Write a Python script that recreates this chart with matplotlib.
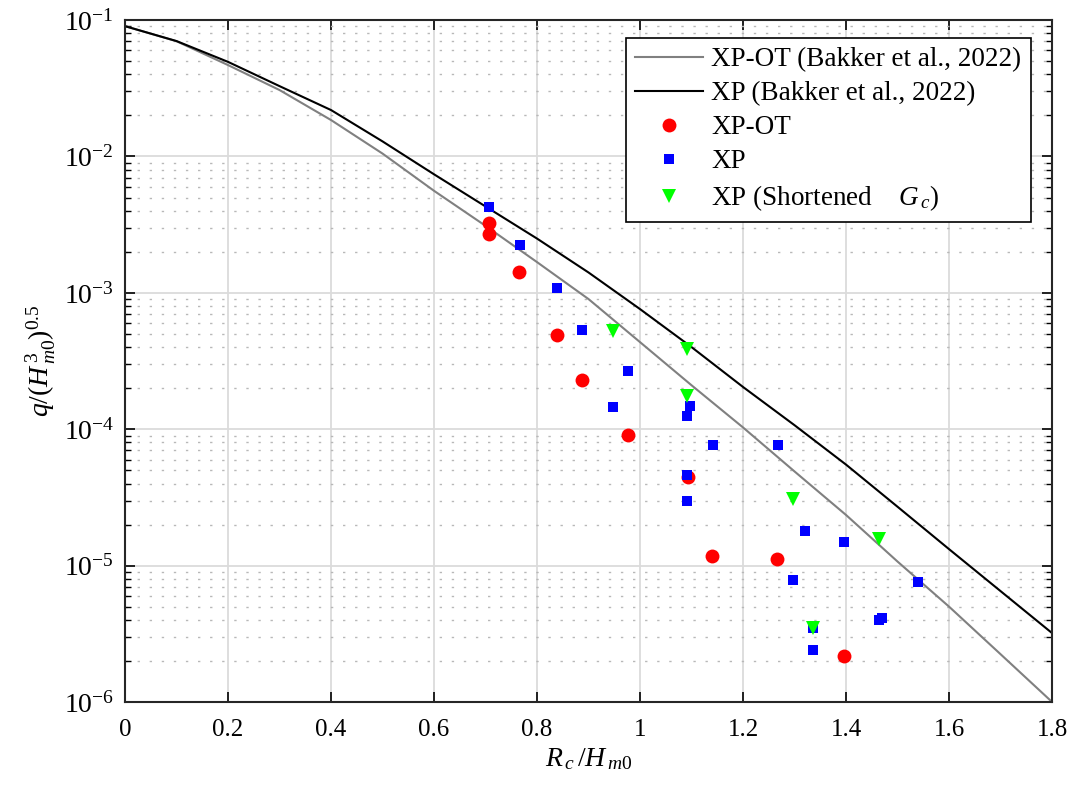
import numpy as np
import matplotlib
matplotlib.use('Agg')
import matplotlib.pyplot as plt
from matplotlib.ticker import LogLocator, NullFormatter, LogFormatterMathtext

# Bakker et al. (2022) Kurven, Stuetzstellen bei 0.1
x_line = [0.0, 0.1, 0.2, 0.3, 0.4, 0.5, 0.6, 0.7, 0.8, 0.9,
          1.0, 1.1, 1.2, 1.3, 1.4, 1.5, 1.6, 1.7, 1.8]
q_xpot_line = [0.0903, 0.070, 0.0468, 0.0307, 0.0185, 0.0105, 5.6e-3, 3.1e-3, 1.68e-3, 9.0e-4,
               4.35e-4, 2.1e-4, 1.03e-4, 4.9e-5, 2.35e-5, 1.07e-5, 5.0e-6, 2.24e-6, 1.0e-6]
q_xp_line = [0.0903, 0.0702, 0.0494, 0.0328, 0.0219, 0.0129, 7.4e-3, 4.3e-3, 2.5e-3, 1.41e-3,
             7.6e-4, 4.0e-4, 2.04e-4, 1.07e-4, 5.5e-5, 2.7e-5, 1.32e-5, 6.5e-6, 3.2e-6]

# Messpunkte XP-OT
x_xpot = [0.707, 0.707, 0.765, 0.839, 0.887, 0.977, 1.093, 1.140, 1.266, 1.396]
q_xpot = [3.25e-3, 2.70e-3, 1.43e-3, 4.94e-4, 2.29e-4, 9.1e-5, 4.5e-5, 1.17e-5, 1.11e-5, 2.16e-6]

# Messpunkte XP
x_xp = [0.707, 0.766, 0.839, 0.888, 0.977, 0.948, 1.097, 1.092, 1.092, 1.092,
        1.141, 1.267, 1.321, 1.395, 1.296, 1.540, 1.463, 1.469, 1.335, 1.335]
q_xp = [4.25e-3, 2.24e-3, 1.09e-3, 5.35e-4, 2.68e-4, 1.46e-4, 1.48e-4, 1.25e-4, 4.6e-5, 3.0e-5,
        7.7e-5, 7.7e-5, 1.81e-5, 1.5e-5, 7.8e-6, 7.65e-6, 4.0e-6, 4.1e-6, 3.5e-6, 2.4e-6]

# Messpunkte XP mit verkuerztem Gc
x_short = [0.947, 1.092, 1.092, 1.296, 1.463, 1.335]
q_short = [5.23e-4, 3.88e-4, 1.75e-4, 3.06e-5, 1.56e-5, 3.5e-6]

x_ticks = [0, 0.2, 0.4, 0.6, 0.8, 1.0, 1.2, 1.4, 1.6, 1.8]
x_ticklabels = ['0', '0.2', '0.4', '0.6', '0.8', '1', '1.2', '1.4', '1.6', '1.8']

plt.rcParams['font.family'] = ['Liberation Serif', 'DejaVu Serif']
plt.rcParams['mathtext.fontset'] = 'custom'
plt.rcParams['mathtext.rm'] = 'Liberation Serif'
plt.rcParams['mathtext.it'] = 'Liberation Serif:italic'
plt.rcParams['mathtext.bf'] = 'Liberation Serif:bold'

fig = plt.figure(figsize=(10.78, 7.92), dpi=100)
ax = fig.add_axes([0.116, 0.1136, 0.860, 0.861])

ax.semilogy(x_line, q_xpot_line, color=(0.5, 0.5, 0.5), lw=1.5, label='XP-OT (Bakker et al., 2022)')
ax.semilogy(x_line, q_xp_line, color='black', lw=1.5, label='XP (Bakker et al., 2022)')
ax.plot(x_xpot, q_xpot, 'o', color='red', ms=10, mew=0, label='XP-OT')
ax.plot(x_xp, q_xp, 's', color='blue', ms=7.5, mew=0, label='XP')
ax.plot(x_short, q_short, 'v', color=(0, 1, 0), ms=10, mew=0,
        label='XP (Shortened    $\\mathit{G}_{\\,c}$)')

# styling
ax.set_xlim(0, 1.8)
ax.set_ylim(1e-6, 1e-1)
ax.set_xticks(x_ticks)
ax.set_xticklabels(x_ticklabels)
ax.yaxis.set_major_locator(LogLocator(base=10, numticks=10))
ax.yaxis.set_minor_locator(LogLocator(base=10, subs=np.arange(2, 10), numticks=20))
ax.yaxis.set_minor_formatter(NullFormatter())
ax.yaxis.set_major_formatter(LogFormatterMathtext())

ax.grid(True, which='major', color=(0.86, 0.86, 0.86), lw=1.3)
ax.grid(True, which='minor', axis='y', color=(0.72, 0.72, 0.72), lw=1.0, ls=(0, (1.7, 7)))
ax.set_axisbelow(True)

ax.tick_params(which='both', direction='in', top=True, right=True, colors='black')
ax.tick_params(axis='x', labelsize=18)
ax.tick_params(axis='y', labelsize=20)
ax.tick_params(which='major', length=7, width=1.2)
ax.tick_params(axis='x', which='major', pad=12)
ax.tick_params(axis='y', which='major', pad=8)
ax.tick_params(which='minor', length=4, width=1.0)
for s in ax.spines.values():
    s.set_linewidth(1.5)
    s.set_color((0.15, 0.15, 0.15))

ax.set_xlabel('$R_{\\,c}\\,/H_{\\,m0}$', fontsize=20, labelpad=4)
ax.set_ylabel('$q/(H^{\\,3}_{\\,m0})^{0.5}$', fontsize=20, labelpad=4)

leg = ax.legend(loc='upper right', bbox_to_anchor=(0.977, 0.974), fontsize=19.5, fancybox=False,
                edgecolor='black', framealpha=1, handlelength=2.5, borderpad=0.35,
                labelspacing=0.33, handletextpad=0.3, borderaxespad=0)
leg.get_frame().set_linewidth(1.2)

fig.savefig('out.png', dpi=100)
